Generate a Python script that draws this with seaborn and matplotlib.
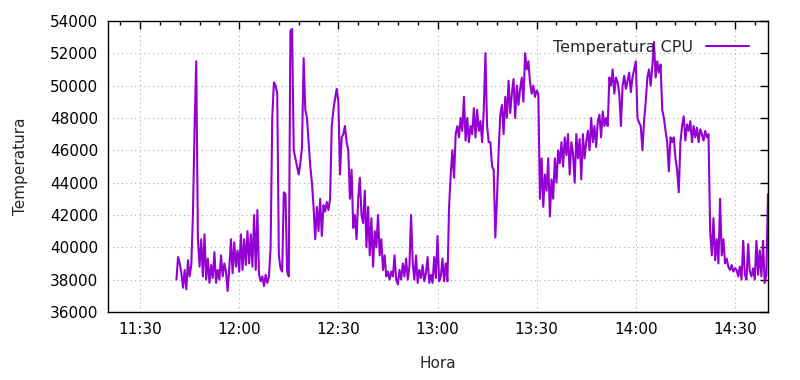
import pandas as pd
import matplotlib
matplotlib.use("Agg")
import matplotlib.pyplot as plt
import matplotlib.dates as mdates
import seaborn as sns

# Temperatura CPU, una lectura cada 30 s desde las 11:41
inicio = "2024-01-01 11:41:00"
temp_1 = [38000, 39400, 39000, 38400, 37500, 38600, 37400, 39200, 38200, 38900,
          42000, 47500, 51500, 40500, 38800, 40500, 38200, 40800, 38000, 39300,
          37800, 38900, 38100, 39700, 37800, 38600, 38000, 39500, 38200, 39000,
          38500, 37300, 38700, 40500, 38400, 40300, 38800, 39800, 38500, 40800,
          38600, 40500, 38900, 41000, 39000, 40800, 38800, 42000, 38600, 42300,
          38300, 37900, 38200, 37600, 38300, 37800, 38200, 40000, 48000, 50200]
temp_2 = [50000, 49500, 39500, 38700, 38500, 43400, 43300, 38500, 38200, 53400,
          53500, 46000, 45500, 45000, 44500, 45200, 46200, 51700, 48500, 48000,
          46500, 45000, 44000, 42500, 40500, 42500, 41000, 43000, 40700, 42600,
          42200, 42800, 42300, 43000, 47500, 48500, 49200, 49800, 49000, 44500,
          46800, 47000, 47500, 46500, 46000, 43000, 44800, 41200, 42000, 40500,
          43000, 44300, 42000, 41500, 43500, 40000, 42500, 39500, 41800, 38800]
temp_3 = [41000, 40000, 42000, 39500, 40500, 38600, 39500, 38200, 38500, 38000,
          38500, 38200, 39500, 38000, 37700, 38600, 38000, 39000, 38200, 39300,
          38000, 38800, 42000, 39000, 38000, 39500, 37800, 38600, 38100, 38900,
          37900, 38400, 39400, 37800, 38300, 37800, 39400, 38100, 40700, 37900,
          38200, 39300, 37900, 39000, 37900, 42500, 44500, 46000, 44300, 47000,
          47500, 46800, 48000, 47200, 49300, 46600, 48000, 46500, 47500, 47000]
temp_4 = [48600, 46800, 48500, 47200, 47800, 46500, 48500, 52000, 47500, 46500,
          46500, 45000, 44800, 40600, 43000, 46000, 48200, 48800, 47000, 49300,
          48000, 50300, 48300, 49500, 50400, 48000, 50000, 48800, 49800, 50500,
          49000, 52000, 51000, 51500, 50200, 49500, 50000, 49300, 49700, 49500,
          43000, 45500, 42500, 44500, 43500, 45500, 41900, 44200, 43000, 45500,
          44000, 46000, 45200, 46500, 45000, 46800, 45700, 47000, 44500, 46500]
temp_5 = [45800, 44000, 47000, 45500, 46700, 44200, 47000, 45500, 46500, 47200,
          46000, 48000, 46500, 47500, 46200, 47800, 48200, 46800, 48400, 47500,
          48000, 47500, 50500, 50000, 51000, 49500, 50500, 50200, 49500, 47500,
          50000, 50600, 49800, 50300, 50800, 49600, 50500, 51000, 51500, 48000,
          47700, 47500, 46000, 47800, 49000, 50500, 51000, 50000, 51200, 52700,
          50500, 51500, 50800, 51300, 48500, 48000, 47200, 46500, 44700, 46800]
temp_6 = [46500, 46800, 45500, 44800, 43400, 46500, 47500, 48100, 46600, 47600,
          47200, 47800, 46500, 47500, 46800, 47400, 46500, 47300, 47000, 46600,
          47200, 46800, 47000, 41000, 39500, 41800, 39200, 40500, 39000, 43000,
          39500, 40500, 39000, 39300, 38800, 38600, 38900, 38500, 38700, 38600,
          38200, 38800, 38000, 40400, 38300, 38000, 40200, 38500, 38200, 38700,
          38000, 40400, 38300, 39800, 38200, 40400, 37800, 38300, 43300]

temperatura = temp_1 + temp_2 + temp_3 + temp_4 + temp_5 + temp_6
hora = pd.date_range(inicio, periods=len(temperatura), freq="30s")
df = pd.DataFrame({"Hora": hora, "Temperatura": temperatura})

sns.set_style("white")
plt.rcParams["font.family"] = ["DejaVu Sans"]

fig = plt.figure(figsize=(8, 3.8), dpi=100)
ax = fig.add_axes([0.135, 0.179, 0.825, 0.766])

sns.lineplot(data=df, x="Hora", y="Temperatura", color="#9400d3",
             linewidth=1.5, label="Temperatura CPU", ax=ax)

ax.set_xlim(pd.Timestamp("2024-01-01 11:20:18"), pd.Timestamp("2024-01-01 14:40:00"))
ax.set_ylim(36000, 54000)
ax.set_yticks(range(36000, 54001, 2000))
ax.xaxis.set_major_locator(mdates.MinuteLocator(byminute=[0, 30]))
ax.xaxis.set_minor_locator(mdates.MinuteLocator(byminute=range(0, 60, 6)))
ax.xaxis.set_major_formatter(mdates.DateFormatter("%H:%M"))

ax.grid(True, which="major", color="#b0b0b0", linestyle=(0, (1, 3)), linewidth=0.8)
ax.tick_params(which="both", direction="in", top=True, right=True, colors="black",
               labelsize=11)
ax.tick_params(which="major", length=6, width=1, pad=7)
ax.tick_params(which="minor", length=3, width=1)
for s in ax.spines.values():
    s.set_color("black")
    s.set_linewidth(1)

ax.set_xlabel("Hora", fontsize=11, labelpad=14)
ax.set_ylabel("Temperatura", fontsize=11, labelpad=16)

ax.legend(loc="upper right", frameon=False, markerfirst=False, fontsize=11.5,
          handlelength=2.7, borderaxespad=0.8)

fig.savefig("out.png", dpi=100)
